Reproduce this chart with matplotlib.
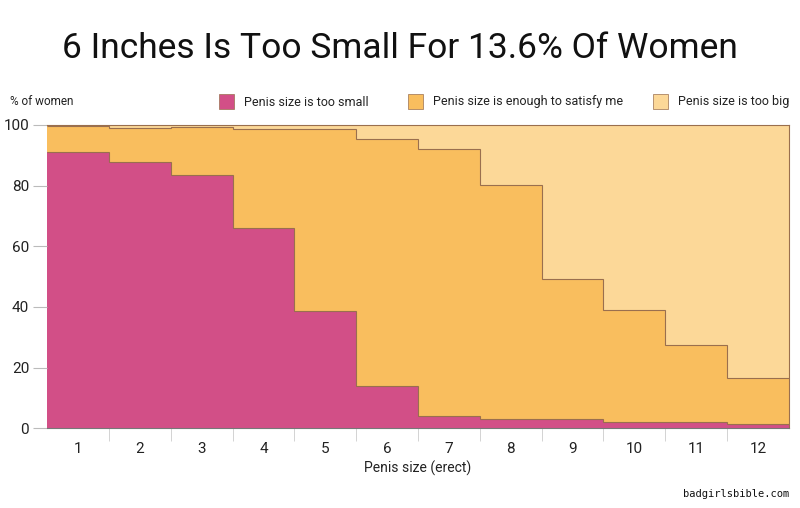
import numpy as np
import matplotlib.pyplot as plt
from matplotlib.patches import Rectangle

plt.rcParams['font.family'] = ['Roboto', 'DejaVu Sans']

sizes = [1, 2, 3, 4, 5, 6, 7, 8, 9, 10, 11, 12]
too_small = [91.1, 87.7, 83.5, 66.0, 38.6, 13.9, 4.1, 3.2, 2.9, 2.2, 2.0, 1.5]
small_or_enough = [99.6, 98.9, 99.2, 98.7, 98.8, 95.4, 92.1, 80.2, 49.2, 38.9, 27.4, 16.5]
y_ticks = [0, 20, 40, 60, 80, 100]
labels = ["Penis size is too small", "Penis size is enough to satisfy me",
          "Penis size is too big"]

c_small = "#d24f87"
c_enough = "#f9be5e"
c_big = "#fcd898"
c_edge = "#9a6f4e"

fig = plt.figure(figsize=(8, 5.08), dpi=100)
ax = fig.add_axes([0.059, 0.157, 0.927, 0.597])

edges = np.arange(len(sizes) + 1) + 0.5
top = np.full(len(sizes), 100.0)

ax.stairs(top, edges, baseline=small_or_enough, fill=True, color=c_big)
ax.stairs(small_or_enough, edges, baseline=too_small, fill=True, color=c_enough)
ax.stairs(too_small, edges, baseline=0, fill=True, color=c_small)
ax.stairs(small_or_enough, edges, baseline=None, color=c_edge, lw=0.8)
ax.stairs(too_small, edges, baseline=None, color=c_edge, lw=0.8)

ax.set_xlim(edges[0], edges[-1])
ax.set_ylim(0, 100)

ax.spines["left"].set_visible(False)
for s in ["top", "right"]:
    ax.spines[s].set_color(c_edge)
    ax.spines[s].set_linewidth(0.8)
ax.spines["bottom"].set_color("#777777")
ax.spines["bottom"].set_linewidth(0.8)

ax.set_yticks(y_ticks)
ax.set_yticklabels([str(v) for v in y_ticks], fontsize=11, color="#222222")
ax.tick_params(axis="y", length=10, color="#bbbbbb", pad=3)

ax.set_xticks(sizes)
ax.set_xticklabels([str(v) for v in sizes], fontsize=11, color="#222222")
ax.tick_params(axis="x", which="major", length=0, pad=10)
ax.set_xticks(edges[1:-1], minor=True)
ax.tick_params(axis="x", which="minor", length=9, color="#cccccc")
ax.set_xlabel("Penis size (erect)", fontsize=10, color="#222222", labelpad=3)

fig.text(0.5, 0.905, "6 Inches Is Too Small For 13.6% Of Women",
         ha="center", va="center", fontsize=25.5, color="#111111")
fig.text(0.013, 0.8, "% of women", fontsize=8.5, color="#222222", va="center")

# legend drawn by hand: square + label
W, H = 800.0, 508.0
leg_x = [219, 408, 653]
for x0, c, lab in zip(leg_x, (c_small, c_enough, c_big), labels):
    fig.patches.append(Rectangle((x0 / W, 1 - 109 / H), 15 / W, 15 / H,
                                 transform=fig.transFigure, facecolor=c,
                                 edgecolor=c_edge, lw=0.5))
    fig.text((x0 + 25) / W, 1 - 102 / H, lab, fontsize=9, color="#222222",
             va="center")

fig.text(0.986, 0.028, "badgirlsbible.com", family="DejaVu Sans Mono",
         fontsize=7.5, ha="right", va="center", color="#111111")

plt.savefig("out.png", dpi=100)
